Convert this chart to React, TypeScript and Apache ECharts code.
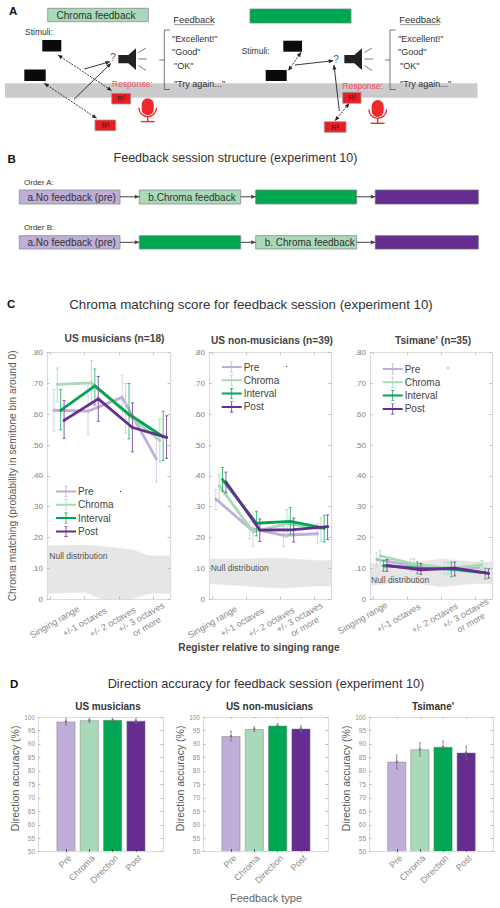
import React, { useEffect, useRef } from "react";
import * as echarts from "echarts";

const FONT = "'Liberation Sans', Arial, sans-serif";

// Colours of the four conditions
const PRE = "#bfaed8";
const CHROMA = "#a8d9b8";
const INTERVAL = "#00a651";
const POST = "#662d91";

const seriesNames = ["Pre", "Chroma", "Interval", "Post"];
const seriesColors = [PRE, CHROMA, INTERVAL, POST];
const errorColors = ["#d5cbe6", "#a6e0bf", "#2fb56f", "#7d4aa3"];
const dodge = [0.1, 0.2, 0.3, 0.4];

const registerTicks = [1, 2, 3, 4];
const registerLabels = ["Singing range", "+/-1 octaves", "+/- 2 octaves", "+/- 3 octaves\nor more"];
const chromaTickLabels = ["0", ".10", ".20", ".30", ".40", ".50", ".60", ".70", ".80"];

// Chroma matching: rows are [mean, lower, upper] per register
const musPre = [[0.613, 0.545, 0.68], [0.61, 0.535, 0.7], [0.655, 0.585, 0.727], [0.455, 0.38, 0.52]];
const musChroma = [[0.697, 0.64, 0.75], [0.702, 0.63, 0.775], [0.605, 0.54, 0.7], [0.515, 0.445, 0.585]];
const musInterval = [[0.613, 0.55, 0.68], [0.692, 0.63, 0.747], [0.6, 0.52, 0.7], [0.527, 0.45, 0.61]];
const musPost = [[0.58, 0.522, 0.645], [0.65, 0.577, 0.723], [0.557, 0.478, 0.637], [0.525, 0.457, 0.595]];

const nonPre = [[0.325, 0.29, 0.355], [0.23, 0.195, 0.25], [0.207, 0.17, 0.235], [0.212, 0.18, 0.245]];
const nonChroma = [[0.368, 0.325, 0.405], [0.218, 0.172, 0.25], [0.245, 0.2, 0.29], [0.228, 0.187, 0.265]];
const nonInterval = [[0.388, 0.35, 0.427], [0.246, 0.205, 0.285], [0.252, 0.21, 0.297], [0.23, 0.185, 0.272]];
const nonPost = [[0.38, 0.345, 0.412], [0.224, 0.187, 0.26], [0.225, 0.185, 0.263], [0.235, 0.193, 0.273]];

const tsiPre = [[0.128, 0.105, 0.15], [0.11, 0.09, 0.13], [0.1, 0.08, 0.118], [0.102, 0.085, 0.118]];
const tsiChroma = [[0.14, 0.12, 0.157], [0.113, 0.095, 0.13], [0.1, 0.08, 0.12], [0.11, 0.095, 0.125]];
const tsiInterval = [[0.108, 0.09, 0.125], [0.1, 0.082, 0.12], [0.097, 0.072, 0.12], [0.085, 0.065, 0.1]];
const tsiPost = [[0.109, 0.09, 0.128], [0.095, 0.08, 0.115], [0.1, 0.075, 0.12], [0.083, 0.068, 0.098]];

// Null distribution: rows are [register, lower, upper]
const musNull = [[0.9, 0.018, 0.173], [2, 0.022, 0.175], [2.5, 0, 0.171], [3.4, 0, 0.16], [3.9, 0.018, 0.14], [4.5, 0.018, 0.14]];
const nonNull = [[0.9, 0.05, 0.13], [2, 0.042, 0.13], [3, 0.035, 0.133], [4, 0.042, 0.125], [4.5, 0.042, 0.125]];
const tsiNull = [[0.9, 0.045, 0.115], [2, 0.055, 0.115], [3, 0.04, 0.13], [4, 0.05, 0.12], [4.5, 0.05, 0.12]];

// Direction accuracy
const feedbackTypes = ["Pre", "Chroma", "Direction", "Post"];
const feedbackPositions = [1, 2, 3, 4];
const accuracyTicks = [50, 55, 60, 65, 70, 75, 80, 85, 90, 95, 100];
const musAccuracy = [98.3, 98.8, 98.9, 98.6];
const musAccuracyLo = [97, 98, 98.1, 97.7];
const musAccuracyHi = [99.5, 99.6, 99.5, 99.6];
const nonAccuracy = [92.9, 95.5, 96.8, 95.7];
const nonAccuracyLo = [91.1, 94.6, 95.8, 94.3];
const nonAccuracyHi = [94.8, 96.4, 97.6, 96.8];
const tsiAccuracy = [83.4, 88, 88.9, 86.8];
const tsiAccuracyLo = [80.7, 85.5, 86.5, 84];
const tsiAccuracyHi = [85.9, 90.5, 91.1, 89.2];
const barColors = [PRE, CHROMA, INTERVAL, POST];

const AXIS = "#dcdcdc";
const TICK = "#bdbdbd";

function text(t: string, x: number, y: number, size: number, o: any = {}) {
  return {
    type: "text", x, y, z: 20, silent: true, rotation: o.rotation || 0,
    style: {
      text: t, fontFamily: FONT, fontSize: size, fill: o.fill || "#333",
      align: o.align || "left", verticalAlign: "middle", fontWeight: o.weight || "normal",
    },
  };
}
function rect(x1: number, y1: number, x2: number, y2: number, fill: string, stroke?: string) {
  return {
    type: "rect", z: 10, silent: true,
    shape: { x: x1, y: y1, width: x2 - x1, height: y2 - y1 },
    style: { fill, stroke: stroke || "none", lineWidth: stroke ? 0.8 : 0 },
  };
}
function line(x1: number, y1: number, x2: number, y2: number, stroke: string, w = 1, dash?: number[]) {
  return {
    type: "line", z: 10, silent: true,
    shape: { x1, y1, x2, y2 },
    style: { stroke, lineWidth: w, lineDash: dash },
  };
}
function head(x: number, y: number, fromX: number, fromY: number, color: string, len = 4.5, half = 2) {
  const a = Math.atan2(y - fromY, x - fromX);
  const bx = x - Math.cos(a) * len, by = y - Math.sin(a) * len;
  const nx = -Math.sin(a) * half, ny = Math.cos(a) * half;
  return {
    type: "polygon", z: 11, silent: true,
    shape: { points: [[x, y], [bx + nx, by + ny], [bx - nx, by - ny]] },
    style: { fill: color },
  };
}
function arrow(x1: number, y1: number, x2: number, y2: number, o: any = {}) {
  const color = o.color || "#222";
  const out: any[] = [line(x1, y1, x2, y2, color, o.w || 0.9, o.dashed ? [2, 1.2] : undefined), head(x2, y2, x1, y1, color)];
  if (o.both) out.push(head(x1, y1, x2, y2, color));
  return out;
}
function speaker(dx: number) {
  const c = "#222";
  const p = [[355, 165], [385, 165], [408, 145], [408, 210], [385, 190], [355, 190]].map(([a, b]) => [a / 3 + dx, b / 3]);
  return [
    { type: "polygon", z: 10, silent: true, shape: { points: p }, style: { fill: c } },
    line(138.5 + dx, 52.5, 146 + dx, 48, "#444", 0.7),
    line(138.5 + dx, 59, 147 + dx, 59, "#444", 0.7),
    line(138.5 + dx, 65.5, 146 + dx, 70.5, "#444", 0.7),
  ];
}
function bracket(dx: number) {
  const c = "#555";
  return [
    line(170 + dx, 30, 164.3 + dx, 30, c, 0.8),
    line(164.3 + dx, 30, 164.3 + dx, 89.5, c, 0.8),
    line(164.3 + dx, 89.5, 170 + dx, 89.5, c, 0.8),
    line(159.3 + dx, 60, 164.3 + dx, 60, c, 0.8),
  ];
}
function feedbackWords(dx: number) {
  return [
    text("Feedback", 194 + dx, 19, 9.5, { align: "center" }),
    line(174 + dx, 24.7, 214 + dx, 24.7, "#777", 0.8),
    text('"Excellent!"', 172 + dx, 38.5, 9),
    text('"Good"', 172 + dx, 52, 9),
    text('"OK"', 174 + dx, 66, 9),
    text('"Try again..."', 174 + dx, 84.2, 9),
  ];
}
function mic(cx: number, top: number) {
  const c = "#ee2a2f";
  return [
    { type: "rect", z: 10, silent: true, shape: { x: cx - 6, y: top, width: 12, height: 17, r: 6 }, style: { fill: c } },
    { type: "arc", z: 10, silent: true, shape: { cx, cy: top + 9.5, r: 8.8, startAngle: 0, endAngle: Math.PI, clockwise: true }, style: { stroke: c, lineWidth: 1.4, fill: "none" } },
    line(cx, top + 18, cx, top + 23, c, 1.4),
    line(cx - 7, top + 23.3, cx + 7, top + 23.3, c, 1.4),
  ];
}
function redBox(x1: number, y1: number, x2: number, y2: number, t: string) {
  return [rect(x1, y1, x2, y2, "#ed1c24", "#999"), text(t, (x1 + x2) / 2, (y1 + y2) / 2, 7.5, { align: "center", fill: "#222" })];
}

const panelA: any[] = [
  rect(5, 83.3, 477.5, 97.7, "#cbcbcd"),
  text("A", 9, 10.5, 11.5, { fill: "#111", weight: "bold" }),
  rect(47.7, 8.3, 148.3, 21.7, CHROMA, "#8c8c8c"),
  text("Chroma feedback", 96, 15, 10, { align: "center" }),
  rect(250, 9, 351, 23, INTERVAL, "#6f8f7f"),
  ...feedbackWords(0), ...feedbackWords(226),
  ...speaker(0), ...speaker(226), ...bracket(0), ...bracket(225.7),
  text("Stimuli:", 25, 32, 8.5),
  rect(42.3, 40, 61.3, 51.5, "#0a0a0a"),
  rect(24.3, 69.5, 45.7, 81, "#0a0a0a"),
  ...arrow(58, 55, 111.7, 90.7, { both: true, dashed: true }),
  ...arrow(44.3, 83.3, 96.7, 118.3, { both: true, dashed: true }),
  ...arrow(84.3, 69, 110, 61.7),
  ...arrow(74, 99.3, 111, 63.3),
  text("?", 113, 57.3, 10, { align: "center", fill: "#555" }),
  text("Response:", 112, 84, 8.5, { fill: "#ef4f5c" }),
  ...redBox(111.7, 93.3, 130.7, 104, "R²"),
  ...redBox(95, 120, 115.7, 130.7, "R¹"),
  ...mic(147.7, 98.3),
  text("Stimuli:", 241.7, 50.7, 8.5),
  rect(283.3, 40.7, 302, 51.7, "#0a0a0a"),
  rect(265.7, 70, 286.7, 81, "#0a0a0a"),
  ...arrow(301, 52.3, 288.3, 70.7, { both: true, dashed: true }),
  ...arrow(295, 65, 333.3, 60.7),
  ...arrow(339.3, 111, 334, 65),
  text("?", 336, 59, 10, { align: "center", fill: "#555" }),
  text("Response:", 342.3, 85.7, 8.5, { fill: "#ef4f5c" }),
  ...redBox(342.7, 92.3, 361, 103.3, "R²"),
  ...redBox(324.3, 121.7, 346, 132.3, "R¹"),
  ...arrow(335, 120.7, 349.3, 103.3, { both: true, dashed: true }),
  ...mic(377.7, 100),
];

const panelB: any[] = [
  text("B", 7.5, 158.5, 11.5, { fill: "#111", weight: "bold" }),
  text("Feedback session structure (experiment 10)", 235.5, 158.3, 12.5, { align: "center" }),
  text("Order A:", 24, 182.7, 8),
  rect(19.3, 190, 120, 204, PRE, "#8a8a8a"),
  rect(139.3, 190, 240.7, 204, CHROMA, "#8a8a8a"),
  rect(255.7, 190, 356.7, 204, INTERVAL, "#7a8a80"),
  rect(375.3, 190, 478.3, 204, POST, "#6a6a7a"),
  text("a.No feedback (pre)", 71.7, 197, 10, { align: "center" }),
  text("b.Chroma feedback", 192, 197, 10, { align: "center" }),
  ...arrow(120, 196.8, 139.3, 196.8, { color: "#444", w: 1 }),
  ...arrow(240.7, 196.8, 255.7, 196.8, { color: "#444", w: 1 }),
  ...arrow(356.7, 196.8, 375.3, 196.8, { color: "#444", w: 1 }),
  text("Order B:", 24, 227.7, 8),
  rect(19.3, 235.7, 120, 249, PRE, "#8a8a8a"),
  rect(139.3, 235.7, 240.7, 249, INTERVAL, "#7a8a80"),
  rect(255.7, 235.7, 356.7, 249, CHROMA, "#8a8a8a"),
  rect(375.3, 235.7, 478.3, 249, POST, "#6a6a7a"),
  text("a.No feedback (pre)", 71.7, 242.3, 10, { align: "center" }),
  text("b. Chroma feedback", 309.7, 242.3, 10, { align: "center" }),
  ...arrow(120, 242.3, 139.3, 242.3, { color: "#444", w: 1 }),
  ...arrow(240.7, 242.3, 255.7, 242.3, { color: "#444", w: 1 }),
  ...arrow(356.7, 242.3, 375.3, 242.3, { color: "#444", w: 1 }),
];

const panelCD: any[] = [
  text("C", 7, 304, 11.5, { fill: "#111", weight: "bold" }),
  text("Chroma matching score for feedback session (experiment 10)", 251, 304, 13.3, { align: "center" }),
  text("US musicians (n=18)", 114.5, 338.7, 10.2, { align: "center", weight: "bold", fill: "#444" }),
  text("US non-musicians (n=39)", 272, 340.3, 10.2, { align: "center", weight: "bold", fill: "#444" }),
  text("Tsimane' (n=35)", 433, 340.3, 10.2, { align: "center", weight: "bold", fill: "#444" }),
  text("Null distribution", 49.3, 555.7, 8.5, { fill: "#555" }),
  text("Null distribution", 210.7, 567.7, 8.5, { fill: "#555" }),
  text("Null distribution", 371, 580, 8.5, { fill: "#555" }),
  text("Register relative to singing range", 259, 647.5, 10.2, { align: "center", weight: "bold", fill: "#444" }),
  rect(120, 491, 121, 492, "#222"),
  rect(286, 366, 287, 367, "#222"),
  rect(447.5, 367.5, 448.5, 368.5, "#222"),
  text("D", 10, 684, 11.5, { fill: "#111", weight: "bold" }),
  text("Direction accuracy for feedback session (experiment 10)", 266, 684, 12.7, { align: "center" }),
  text("US musicians", 108, 706, 10, { align: "center", weight: "bold", fill: "#333" }),
  text("US non-musicians", 269.5, 706, 10, { align: "center", weight: "bold", fill: "#333" }),
  text("Tsimane'", 433, 706, 10, { align: "center", weight: "bold", fill: "#333" }),
  text("Feedback type", 266, 898, 11, { align: "center", fill: "#666" }),
];

const errorItem = (color: string, cap: number, dot: number) => (_: any, api: any) => {
  const x = api.value(0);
  const a = api.coord([x, api.value(1)]);
  const b = api.coord([x, api.value(2)]);
  const st = { stroke: color, lineWidth: 0.9 };
  const children: any[] = [
    { type: "line", shape: { x1: a[0], y1: a[1], x2: b[0], y2: b[1] }, style: st },
    { type: "line", shape: { x1: a[0] - cap, y1: a[1], x2: a[0] + cap, y2: a[1] }, style: st },
    { type: "line", shape: { x1: b[0] - cap, y1: b[1], x2: b[0] + cap, y2: b[1] }, style: st },
  ];
  if (dot) {
    const m = api.coord([x, api.value(3)]);
    children.push({ type: "circle", shape: { cx: m[0], cy: m[1], r: dot }, style: { fill: color } });
  }
  return { type: "group", children };
};

function addBand(series: any[], axis: number, rows: number[][]) {
  series.push({
    type: "custom", name: "Null distribution", xAxisIndex: axis, yAxisIndex: axis, z: 1, silent: true,
    data: rows, encode: { x: 0, y: [1, 2] }, clip: true,
    renderItem: (params: any, api: any) => {
      const i = params.dataIndex;
      if (i >= rows.length - 1) return null;
      const [x0, l0, h0] = rows[i];
      const [x1, l1, h1] = rows[i + 1];
      const pts = [api.coord([x0, l0]), api.coord([x1, l1]), api.coord([x1, h1]), api.coord([x0, h0])];
      return {
        type: "polygon", shape: { points: pts },
        style: { fill: "#e6e6e6", stroke: "#e6e6e6", lineWidth: 0.5 },
      };
    },
  });
}

function addLines(series: any[], axis: number, groups: number[][][]) {
  groups.forEach((rows, s) => {
    const xs = registerTicks.map((t) => t + dodge[s]);
    series.push({
      type: "custom", name: seriesNames[s] + " error", xAxisIndex: axis, yAxisIndex: axis, z: 3 + s, silent: true,
      data: rows.map((r, i) => [xs[i], r[1], r[2]]), encode: { x: 0, y: [1, 2] }, clip: false,
      renderItem: errorItem(errorColors[s], 1.5, 0),
    });
    series.push({
      type: "line", name: seriesNames[s], xAxisIndex: axis, yAxisIndex: axis, z: 3 + s,
      data: rows.map((r, i) => [xs[i], r[0]]),
      color: seriesColors[s],
      symbol: "circle", symbolSize: 3, clip: false,
      itemStyle: { color: seriesColors[s] },
      lineStyle: { color: seriesColors[s], width: 2.8 },
    });
  });
}

function addBars(series: any[], axis: number, vals: number[], lo: number[], hi: number[]) {
  series.push({
    type: "bar", name: "Direction accuracy", xAxisIndex: axis, yAxisIndex: axis, barWidth: 19, z: 3,
    data: vals.map((v, i) => ({
      value: [feedbackPositions[i], v],
      itemStyle: { color: barColors[i], borderColor: "rgba(120,120,120,0.55)", borderWidth: 0.8 },
    })),
  });
  series.push({
    type: "custom", name: "Accuracy error", xAxisIndex: axis, yAxisIndex: axis, z: 4, silent: true,
    data: vals.map((v, i) => [feedbackPositions[i], lo[i], hi[i], v]), encode: { x: 0, y: [1, 2] },
    renderItem: errorItem("rgba(110,110,110,0.85)", 0.8, 1.2),
  });
}

function axes(xAxis: any[], yAxis: any[], cfg: any) {
  const xBase = {
    type: "value", min: cfg.xMin, max: cfg.xMax, gridIndex: cfg.grid, splitLine: { show: false },
    axisLine: { onZero: false, lineStyle: { color: AXIS, width: 1.2 } },
    z: 5,
  };
  const labelColor = "#8a8a8a";
  xAxis.push({
    ...xBase, position: "bottom",
    axisTick: { inside: true, length: 2.5, customValues: cfg.xTicks, lineStyle: { color: cfg.xTickColor || TICK } },
    axisLabel: {
      // The blank outer labels at the axis ends keep every real label from being dropped for overlap.
      customValues: [cfg.xMin, ...cfg.xLabelPos, cfg.xMax], rotate: cfg.rotate, margin: cfg.xMargin,
      align: cfg.labelAlign, verticalAlign: cfg.labelV, showMinLabel: false, showMaxLabel: false, hideOverlap: false,
      fontFamily: FONT, fontSize: cfg.xFont, color: labelColor, lineHeight: cfg.xFont + 2,
      rich: cfg.firstPad
        ? { first: { padding: cfg.firstPad, fontFamily: FONT, fontSize: cfg.xFont, color: labelColor } }
        : undefined,
      formatter: (v: number) => {
        const i = cfg.xLabelPos.findIndex((p: number) => Math.abs(p - v) < 1e-6);
        if (i < 0) return "";
        return i === 0 && cfg.firstPad ? `{first|${cfg.xLabels[0]}}` : cfg.xLabels[i];
      },
    },
  });
  xAxis.push({
    ...xBase, position: "top",
    axisTick: { inside: true, length: 2, customValues: cfg.xTicks, lineStyle: { color: TICK } },
    axisLabel: { show: false },
  });
  const yBase = {
    type: "value", min: cfg.yMin, max: cfg.yMax, interval: cfg.yInterval, gridIndex: cfg.grid,
    splitLine: { show: false }, z: 5,
    axisLine: { show: true, onZero: false, lineStyle: { color: AXIS, width: 1.2 } },
    axisTick: { show: true, inside: true, length: 2.5, lineStyle: { color: TICK } },
  };
  yAxis.push({
    ...yBase, position: "left",
    name: cfg.yName, nameLocation: "middle", nameGap: cfg.yGap,
    nameTextStyle: { fontFamily: FONT, fontSize: cfg.yNameSize, color: "#5a5a5a", padding: cfg.yNamePad },
    axisLabel: {
      margin: cfg.yMargin, fontFamily: FONT, fontSize: cfg.yFont, color: cfg.yColor,
      formatter: cfg.yFormat,
    },
  });
  yAxis.push({ ...yBase, position: "right", axisLabel: { show: false } });
}

const legendIcon =
  "path://M0 4.5H20V6.5H0Z M9.6 0H10.4V11H9.6Z M8.3 0H11.7V0.6H8.3Z M8.3 10.4H11.7V11H8.3Z";

function legend(left: number, top: number) {
  return {
    left, top, orient: "vertical", padding: 0, itemGap: 2.3, itemWidth: 20, itemHeight: 11,
    selectedMode: false,
    textStyle: { fontFamily: FONT, fontSize: 10, color: "#444", padding: [0, 0, 0, -3] },
    data: seriesNames.map((name) => ({ name, icon: legendIcon })),
  };
}

export default function App() {
  const ref = useRef<HTMLDivElement>(null);
  useEffect(() => {
    document.body.style.margin = "0";
    const chart = echarts.init(ref.current!, undefined, { renderer: "svg" });
    const series: any[] = [];
    const xAxis: any[] = [];
    const yAxis: any[] = [];
    const grid: any[] = [];

    const chromaPanels = [
      { left: 47, right: 170, null: musNull, lines: [musPre, musChroma, musInterval, musPost], labelPos: [1.12, 2.0, 2.82, 3.74], margin: 23, firstPad: undefined, name: "Chroma matching (probability in semitone bin around 0)" },
      { left: 209, right: 331, null: nonNull, lines: [nonPre, nonChroma, nonInterval, nonPost], labelPos: [1.0, 1.88, 2.74, 3.65], margin: 23, firstPad: undefined, name: "" },
      { left: 370, right: 492, null: tsiNull, lines: [tsiPre, tsiChroma, tsiInterval, tsiPost], labelPos: [0.92, 1.74, 2.81, 3.8], margin: 19, firstPad: [0, 14, 8, 0], name: "" },
    ];
    chromaPanels.forEach((p, i) => {
      grid.push({ left: p.left, top: 352.7, width: p.right - p.left, height: 246.3 });
      axes(xAxis, yAxis, {
        grid: i, xMin: 0.9, xMax: 4.5, xTicks: registerTicks, xLabelPos: p.labelPos, xLabels: registerLabels,
        rotate: 30, xMargin: p.margin, firstPad: p.firstPad, labelAlign: "center", labelV: "middle", xFont: 9,
        yMin: 0, yMax: 0.8, yInterval: 0.1, yName: p.name, yGap: 30, yNameSize: 10.2, yMargin: 4, yFont: 8, yColor: "#808080",
        yFormat: (v: number) => chromaTickLabels[Math.round(v * 10)],
      });
      addBand(series, i * 2, p.null);
      addLines(series, i * 2, p.lines);
    });

    const accuracyPanels = [
      { left: 38, right: 163, gap: 17, v: musAccuracy, lo: musAccuracyLo, hi: musAccuracyHi },
      { left: 203, right: 328, gap: 14, v: nonAccuracy, lo: nonAccuracyLo, hi: nonAccuracyHi },
      { left: 369, right: 493, gap: 15, v: tsiAccuracy, lo: tsiAccuracyLo, hi: tsiAccuracyHi },
    ];
    accuracyPanels.forEach((p, k) => {
      const i = k + 3;
      grid.push({ left: p.left, top: 717, width: p.right - p.left, height: 134.7 });
      axes(xAxis, yAxis, {
        grid: i, xMin: -0.2, xMax: 5.16, xTicks: feedbackPositions,
        xLabelPos: feedbackPositions.map((q) => q + 0.17), xLabels: feedbackTypes, xTickColor: "#444",
        rotate: 45, xMargin: 5, xFont: 9,
        yMin: accuracyTicks[0], yMax: accuracyTicks[accuracyTicks.length - 1], yInterval: 5,
        yName: "Direction accuracy (%)", yGap: p.gap, yNameSize: 10.5, yNamePad: [0, 0, 0, 12], yMargin: 3, yFont: 6.5, yColor: "#909090",
      });
      addBars(series, i * 2, p.v, p.lo, p.hi);
    });

    chart.setOption({
      animation: false,
      backgroundColor: "#ffffff",
      textStyle: { fontFamily: FONT },
      grid, xAxis, yAxis, series,
      legend: [legend(56, 486), legend(221.7, 361.5), legend(382.7, 363.5)],
      graphic: { elements: [...panelA, ...panelB, ...panelCD] },
    });
    return () => chart.dispose();
  }, []);
  return <div ref={ref} style={{ position: "absolute", left: 0, top: 0, width: 500, height: 908 }} />;
}
